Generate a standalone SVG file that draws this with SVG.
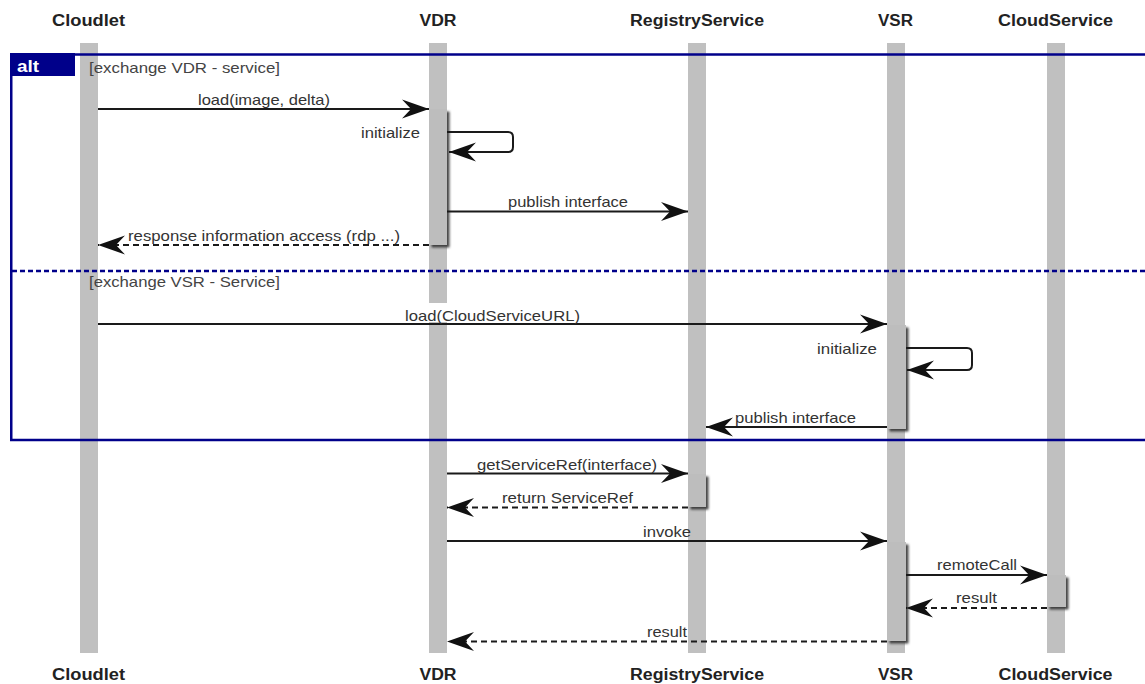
<svg xmlns="http://www.w3.org/2000/svg" width="1145" height="684" viewBox="0 0 1145 684">
<defs>
<style>
.title{font-family:"Liberation Sans",Arial,sans-serif;font-weight:bold;font-size:16px;fill:#222;text-anchor:middle}
.lbl{font-family:"Liberation Sans",Arial,sans-serif;font-size:15px;fill:#333}
.guard{font-family:"Liberation Sans",Arial,sans-serif;font-size:15px;fill:#444}
.life{fill:#c0c0c0}
.act{fill:#bdbdbd;filter:url(#shadow)}
.msg{fill:none;stroke:#1a1a1a;stroke-width:2;marker-end:url(#arrow)}
.ret{fill:none;stroke:#1a1a1a;stroke-width:2;stroke-dasharray:6 4;marker-end:url(#arrow)}
.frame{fill:none;stroke:#00008a;stroke-width:2.5}
</style>
<filter id="shadow" x="-50%" y="-20%" width="200%" height="140%">
<feDropShadow dx="2.5" dy="2.5" stdDeviation="1.3" flood-color="#333" flood-opacity="0.9"/>
</filter>
<marker id="arrow" markerUnits="userSpaceOnUse" viewBox="-28 -11 30 22" refX="0" refY="0" markerWidth="30" markerHeight="22" orient="auto">
<path d="M0,0 L-27,-9.5 L-18,0 L-27,9.5 Z" fill="#111" stroke="none"/>
</marker>
</defs>
<rect width="1145" height="684" fill="#fff"/>

<g id="lifelines">
<g id="Cloudlet">
<text class="title" x="88.5" y="26" textLength="73" lengthAdjust="spacingAndGlyphs">Cloudlet</text>
<rect class="life" x="80" y="43" width="18" height="610"/>
<text class="title" x="88.5" y="680" textLength="73" lengthAdjust="spacingAndGlyphs">Cloudlet</text>
</g>
<g id="VDR">
<text class="title" x="438" y="26" textLength="37" lengthAdjust="spacingAndGlyphs">VDR</text>
<rect class="life" x="429" y="43" width="18" height="610"/>
<text class="title" x="438" y="680" textLength="37" lengthAdjust="spacingAndGlyphs">VDR</text>
</g>
<g id="RegistryService">
<text class="title" x="697" y="26" textLength="134" lengthAdjust="spacingAndGlyphs">RegistryService</text>
<rect class="life" x="688" y="43" width="18" height="610"/>
<text class="title" x="697" y="680" textLength="134" lengthAdjust="spacingAndGlyphs">RegistryService</text>
</g>
<g id="VSR">
<text class="title" x="895.5" y="26" textLength="35" lengthAdjust="spacingAndGlyphs">VSR</text>
<rect class="life" x="887" y="43" width="18" height="610"/>
<text class="title" x="895.5" y="680" textLength="35" lengthAdjust="spacingAndGlyphs">VSR</text>
</g>
<g id="CloudService">
<text class="title" x="1055.5" y="26" textLength="115" lengthAdjust="spacingAndGlyphs">CloudService</text>
<rect class="life" x="1047" y="43" width="18" height="610"/>
<text class="title" x="1055.5" y="680" textLength="114" lengthAdjust="spacingAndGlyphs">CloudService</text>
</g>
</g>

<g id="activations">
<rect class="act" x="429" y="109" width="18" height="136"/>
<rect class="act" x="887" y="325" width="19" height="104"/>
<rect class="act" x="688" y="474" width="18" height="33"/>
<rect class="act" x="887" y="542" width="19" height="99"/>
<rect class="act" x="1047" y="575" width="19" height="32"/>
</g>

<g id="alt">
<rect class="frame" x="11.25" y="54.5" width="1160" height="385.5"/>
<rect x="10" y="53" width="65" height="23" fill="#00008a"/>
<text x="17" y="72" font-family="Liberation Sans, Arial, sans-serif" font-weight="bold" font-size="16" fill="#fff" textLength="22" lengthAdjust="spacingAndGlyphs">alt</text>
<line x1="12" y1="271" x2="1145" y2="271" stroke="#00008a" stroke-width="2.5" stroke-dasharray="5 3"/>
<text class="guard" x="89" y="73" textLength="191" lengthAdjust="spacingAndGlyphs">[exchange VDR - service]</text>
<text class="guard" x="89" y="286.5" textLength="191" lengthAdjust="spacingAndGlyphs">[exchange VSR - Service]</text>
</g>

<g id="connectors">
<path class="msg" d="M98,109 H429"/>
<path class="msg" d="M447,132 H508 Q513,132 513,137 V147 Q513,152 508,152 H449"/>
<path class="msg" d="M447,211.5 H688"/>
<path class="ret" d="M429,245 H98"/>
<rect x="404" y="303" width="178" height="19" fill="#fff"/>
<path class="msg" d="M98,324 H887"/>
<path class="msg" d="M906,348 H967 Q972,348 972,353 V365 Q972,370 967,370 H907"/>
<path class="msg" d="M887,427 H706"/>
<path class="msg" d="M447,473.5 H688"/>
<path class="ret" d="M688,507.5 H447"/>
<path class="msg" d="M447,541 H887"/>
<path class="msg" d="M906,575 H1047"/>
<path class="ret" d="M1047,608 H906"/>
<path class="ret" d="M887,641.5 H447"/>
</g>

<g id="labels">
<text class="lbl" x="198" y="105" textLength="132" lengthAdjust="spacingAndGlyphs">load(image, delta)</text>
<text class="lbl" x="361" y="138" textLength="59" lengthAdjust="spacingAndGlyphs">initialize</text>
<text class="lbl" x="508" y="206.5" textLength="120" lengthAdjust="spacingAndGlyphs">publish interface</text>
<text class="lbl" x="128" y="240.5" textLength="272" lengthAdjust="spacingAndGlyphs">response information access (rdp ...)</text>
<text class="lbl" x="405" y="320.5" textLength="175" lengthAdjust="spacingAndGlyphs">load(CloudServiceURL)</text>
<text class="lbl" x="817" y="353.5" textLength="60" lengthAdjust="spacingAndGlyphs">initialize</text>
<text class="lbl" x="735" y="423" textLength="121" lengthAdjust="spacingAndGlyphs">publish interface</text>
<text class="lbl" x="477" y="470" textLength="180" lengthAdjust="spacingAndGlyphs">getServiceRef(interface)</text>
<text class="lbl" x="502" y="503" textLength="131" lengthAdjust="spacingAndGlyphs">return ServiceRef</text>
<text class="lbl" x="643" y="536.5" textLength="48" lengthAdjust="spacingAndGlyphs">invoke</text>
<text class="lbl" x="937" y="569.5" textLength="80" lengthAdjust="spacingAndGlyphs">remoteCall</text>
<text class="lbl" x="956" y="603" textLength="41" lengthAdjust="spacingAndGlyphs">result</text>
<text class="lbl" x="647" y="636.5" textLength="40" lengthAdjust="spacingAndGlyphs">result</text>
</g>
</svg>
